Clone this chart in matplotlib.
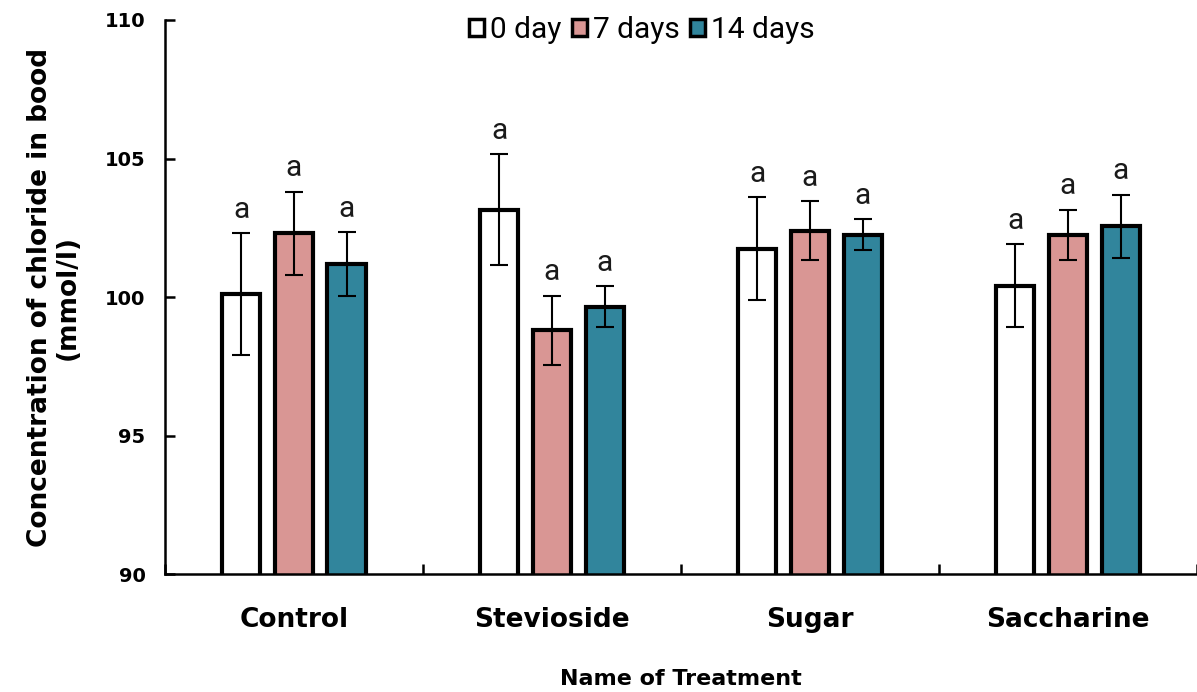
import numpy as np
import matplotlib
matplotlib.use("Agg")
from matplotlib import pyplot as plt

# values
categories = ["Control", "Stevioside", "Sugar", "Saccharine"]
series_names = ["0 day", "7 days", "14 days"]
day0 = [100.1, 103.15, 101.75, 100.4]
day0_err = [2.2, 2.0, 1.85, 1.5]
day7 = [102.3, 98.8, 102.4, 102.25]
day7_err = [1.5, 1.25, 1.05, 0.9]
day14 = [101.2, 99.65, 102.25, 102.55]
day14_err = [1.15, 0.75, 0.55, 1.15]
letters0 = ["a", "a", "a", "a"]
letters7 = ["a", "a", "a", "a"]
letters14 = ["a", "a", "a", "a"]

colors = ["#FFFFFF", "#D99694", "#31859C"]
bold_font = "DejaVu Sans"
light_font = "Roboto"

fig = plt.figure(figsize=(11.97, 6.92), dpi=100)
ax = fig.add_axes([0.1378, 0.1705, 0.8622, 0.8006])

x = np.arange(len(categories))
offsets = [-0.205, 0.0, 0.205]
width = 0.15

all_vals = [day0, day7, day14]
all_errs = [day0_err, day7_err, day14_err]
all_letters = [letters0, letters7, letters14]

for i in range(3):
    xs = x + offsets[i]
    ax.bar(xs, all_vals[i], width, color=colors[i], edgecolor="black",
           linewidth=3, label=series_names[i], yerr=all_errs[i],
           error_kw=dict(ecolor="black", elinewidth=1.5, capsize=6.5, capthick=1.5))
    for xi, v, e, lab in zip(xs, all_vals[i], all_errs[i], all_letters[i]):
        ax.annotate(lab, (xi, v + e), xytext=(0, 11), textcoords="offset points",
                    ha="center", va="baseline", fontsize=21.5, family=light_font,
                    color="#1a1a1a")

ax.set_ylim(90, 110)
ax.set_xlim(-0.5, 3.5)
ax.set_yticks([90, 95, 100, 105, 110])

ax.set_xticks(x)
ax.set_xticklabels(categories, fontsize=19, fontweight="bold", family=bold_font)
ax.set_xticks(np.arange(-0.5, 3.6, 1.0), minor=True)
ax.tick_params(axis="x", which="major", length=0, pad=24)
ax.tick_params(axis="x", which="minor", direction="in", length=7, width=1.8)
ax.tick_params(axis="y", direction="in", length=7, width=1.8, pad=14)
for t in ax.get_yticklabels():
    t.set_fontsize(14)
    t.set_fontweight("bold")
    t.set_family(bold_font)

for s in ["top", "right"]:
    ax.spines[s].set_visible(False)
for s in ["left", "bottom"]:
    ax.spines[s].set_linewidth(1.8)

ax.set_ylabel("Concentration of chloride in bood\n(mmol/l)", fontsize=19,
              fontweight="bold", family=bold_font, linespacing=1.05)
ax.yaxis.set_label_coords(-0.082, 0.5)
ax.set_xlabel("Name of Treatment", fontsize=16, fontweight="bold", family=bold_font)
ax.xaxis.set_label_coords(0.5, -0.171)

leg = ax.legend(loc="center", bbox_to_anchor=(0.462, 0.982), ncol=3, frameon=False,
                prop={"family": light_font, "size": 21.5}, handlelength=0.5,
                handleheight=0.5, handletextpad=0.2, columnspacing=0.35,
                borderpad=0, borderaxespad=0)
for h in leg.legend_handles:
    h.set_linewidth(2.5)

fig.savefig("out.png", dpi=100)
